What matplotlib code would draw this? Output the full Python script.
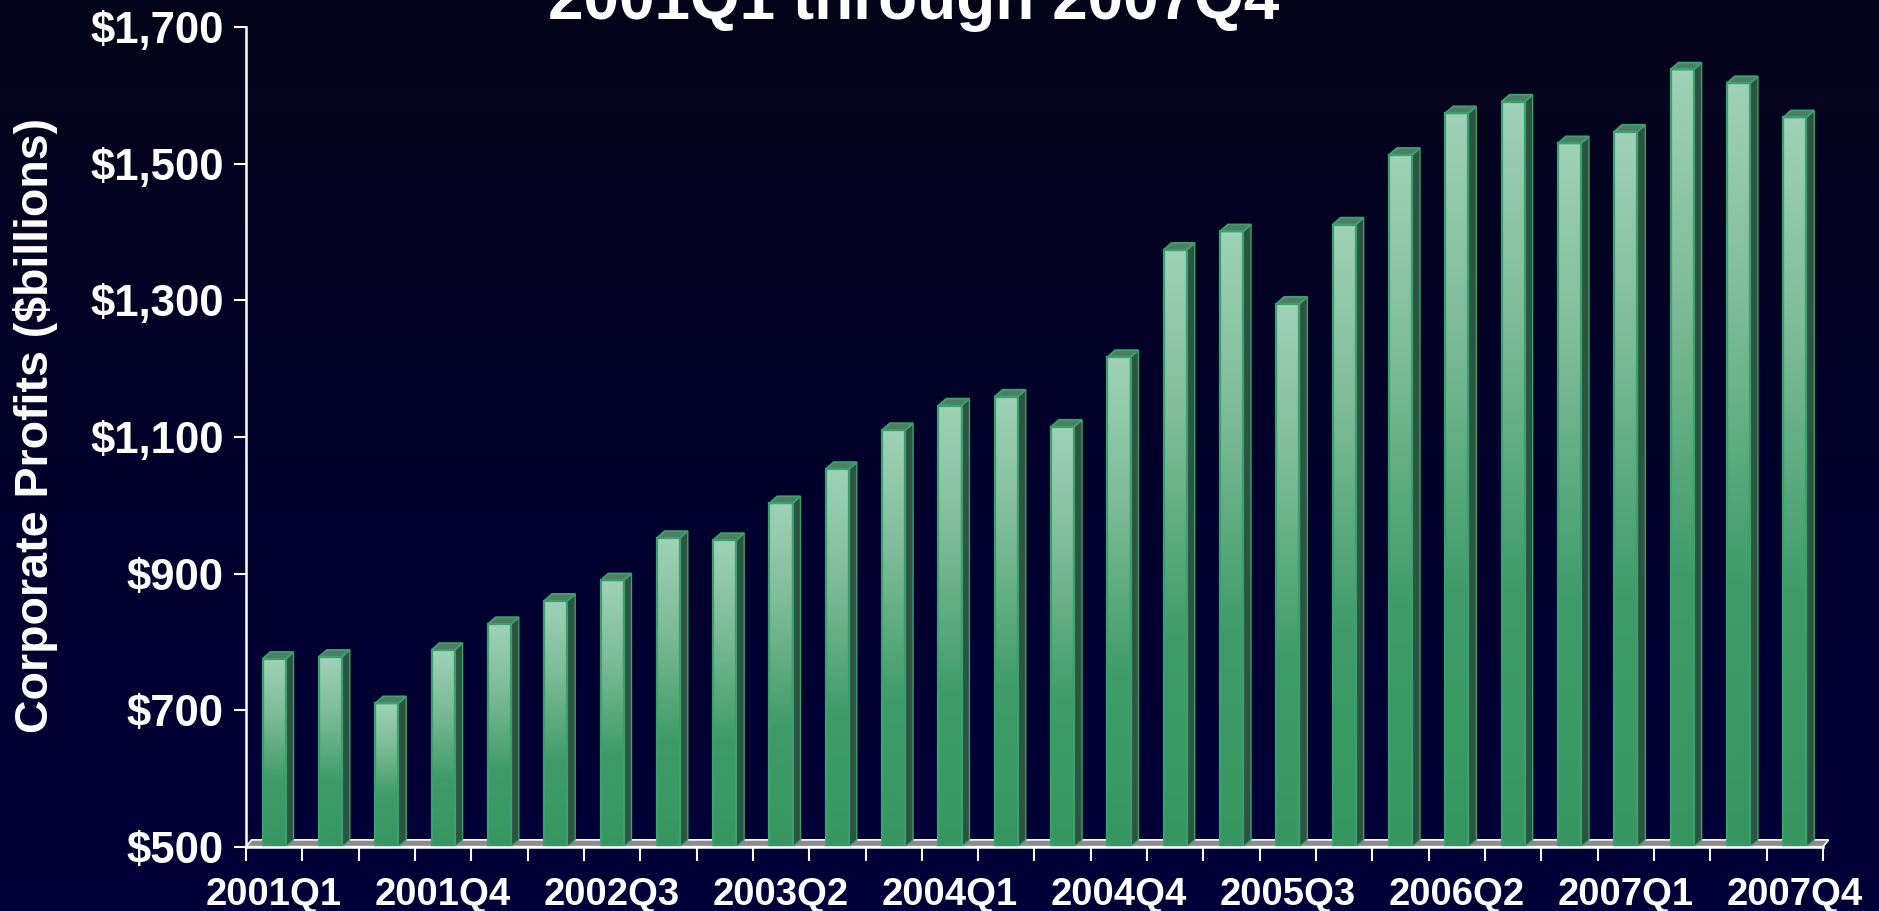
import numpy as np
import matplotlib
matplotlib.use("Agg")
import matplotlib.pyplot as plt
from matplotlib.colors import LinearSegmentedColormap
from matplotlib.patches import Polygon

plt.rcParams['font.family'] = ['Liberation Sans', 'DejaVu Sans']
plt.rcParams['font.weight'] = 'bold'

# quarterly corporate profits, $billions
quarters = ["%dQ%d" % (y, q) for y in range(2001, 2008) for q in range(1, 5)]
profits = [775, 778, 710, 788, 826, 860, 890, 952, 949, 1003, 1053, 1110, 1146, 1159,
           1115, 1217, 1374, 1401, 1295, 1411, 1513, 1574, 1591, 1530, 1547, 1638, 1618, 1568]
yticks = [500, 700, 900, 1100, 1300, 1500, 1700]
ymin, ymax = 500, 1700

fig = plt.figure(figsize=(18.79, 9.11), dpi=100)

# background gradient
bg = fig.add_axes([0, 0, 1, 1], zorder=-10)
bg_cmap = LinearSegmentedColormap.from_list("bg", ["#000039", "#02012a", "#06041a"])
bg.imshow(np.linspace(0, 1, 256).reshape(-1, 1), cmap=bg_cmap, aspect="auto",
          origin="lower", extent=[0, 1, 0, 1])
bg.axis("off")

ax = fig.add_axes([0.1309, 0.0706, 0.8393, 0.8996])
ax.set_facecolor("none")

n = len(profits)
x = np.arange(n)
w = 0.41
dx = 0.14      # 3d depth in categories
dy = 10        # 3d depth in data units

front_cmap = LinearSegmentedColormap.from_list(
    "front", [(0, "#37965f"), (0.35, "#3f9c69"), (0.7, "#7dbb98"), (1, "#9fd2b7")])
grad = np.linspace(0, 1, 256).reshape(-1, 1)

# floor
floor = Polygon([(-0.5, ymin), (n - 0.5, ymin), (n - 0.5 + 0.1, ymin + dy),
                 (-0.5 + 0.1, ymin + dy)], closed=True, facecolor="#8c8c8c",
                edgecolor="white", linewidth=1.2, zorder=1, clip_on=False)
ax.add_patch(floor)

bars = ax.bar(x, [v - ymin for v in profits], width=w, bottom=ymin,
              facecolor="none", edgecolor="#3aa06e", linewidth=1.6, zorder=4)
for xi, v, b in zip(x, profits, bars):
    im = ax.imshow(grad, cmap=front_cmap, aspect="auto", origin="lower",
                   extent=[xi - w / 2, xi + w / 2, ymin, v], zorder=3)
    im.set_clip_path(b)
    side = Polygon([(xi + w / 2, ymin), (xi + w / 2 + dx, ymin + dy),
                    (xi + w / 2 + dx, v + dy), (xi + w / 2, v)], closed=True,
                   facecolor="#2c5440", edgecolor="#3aa06e", linewidth=1.0, zorder=3)
    ax.add_patch(side)
    cap = Polygon([(xi - w / 2, v), (xi + w / 2, v), (xi + w / 2 + dx, v + dy),
                   (xi - w / 2 + dx, v + dy)], closed=True,
                  facecolor="#4f7c62", edgecolor="#3aa06e", linewidth=1.4, zorder=3)
    ax.add_patch(cap)

ax.set_xlim(-0.5, n - 0.5)
ax.set_ylim(ymin, ymax)

for s in ["top", "right"]:
    ax.spines[s].set_visible(False)
for s in ["left", "bottom"]:
    ax.spines[s].set_color("white")
    ax.spines[s].set_linewidth(1.8)
    ax.spines[s].set_zorder(5)

ax.set_yticks(yticks)
ax.set_yticklabels(["$%s" % format(t, ",") for t in yticks])
ax.tick_params(axis="y", colors="white", length=9, width=1.5, pad=7, labelsize=31.5)

ax.set_xticks(np.arange(n + 1) - 0.5)
ax.set_xticklabels([])
ax.set_xticks(x[::3], minor=True)
ax.set_xticklabels(quarters[::3], minor=True)
ax.tick_params(axis="x", which="major", colors="white", length=10, width=1.5)
ax.tick_params(axis="x", which="minor", colors="white", length=0, pad=22, labelsize=27.5)

fig.text(36 / 1879, 0.5335, "Corporate Profits ($billions)", rotation=90,
         color="white", fontsize=33.5, ha="center", va="center")
fig.text(0.4865, 1 - 19 / 911, "2001Q1 through 2007Q4", color="white",
         fontsize=46, ha="center", va="baseline")

fig.savefig("out.png", dpi=100)
